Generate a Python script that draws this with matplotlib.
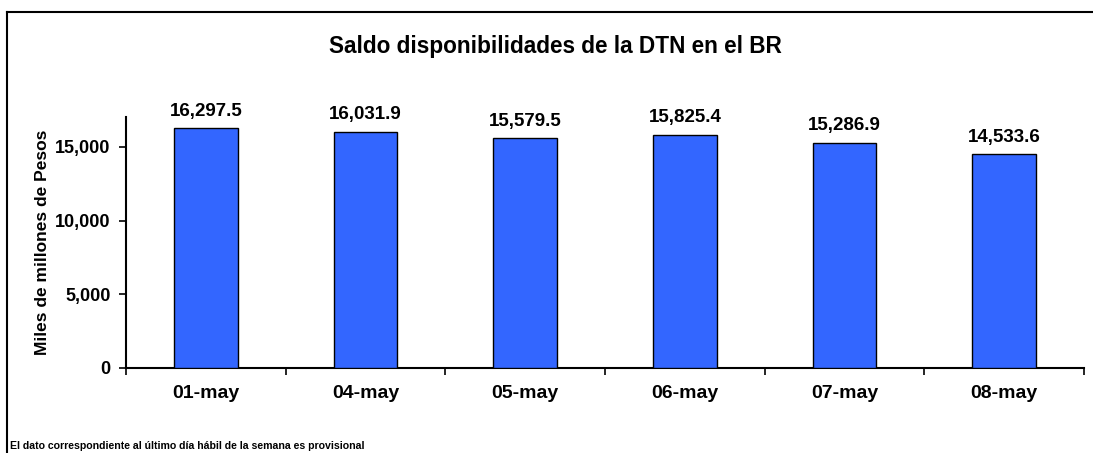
import matplotlib
matplotlib.use("Agg")
import matplotlib.pyplot as plt
from matplotlib.lines import Line2D
from matplotlib.ticker import FuncFormatter

categories = ["01-may", "04-may", "05-may", "06-may", "07-may", "08-may"]
values = [16297.5, 16031.9, 15579.5, 15825.4, 15286.9, 14533.6]
yticks = [0, 5000, 10000, 15000]

plt.rcParams['font.family'] = ['Liberation Sans', 'DejaVu Sans']
plt.rcParams['font.weight'] = 'bold'

W, H = 1093, 453
fig = plt.figure(figsize=(W / 100, H / 100), dpi=100)
fig.patch.set_facecolor("white")

ax = fig.add_axes([126 / W, 1 - 368 / H, (1084 - 126) / W, (368 - 117.5) / H])
x = list(range(len(categories)))
ax.bar(x, values, width=0.4, color="#3366FF", edgecolor="black", linewidth=1.0, zorder=3)

for xi, v in zip(x, values):
    ax.annotate(f"{v:,.1f}", (xi, v), xytext=(0, 6), textcoords="offset points",
                ha="center", va="bottom", fontsize=13.5, fontweight="bold")

ax.set_xlim(-0.5, len(categories) - 0.5)
ax.set_ylim(0, 17000)
ax.set_yticks(yticks)
ax.yaxis.set_major_formatter(FuncFormatter(lambda v, p: f"{int(v):,}"))
ax.set_xticks([i - 0.5 for i in range(len(categories) + 1)])
ax.set_xticklabels([])
ax.set_xticks(x, minor=True)
ax.set_xticklabels(categories, minor=True, fontsize=14, fontweight="bold")
ax.tick_params(axis="x", which="minor", length=0, pad=12)
ax.tick_params(axis="x", which="major", length=5, width=1.2, direction="out")
ax.tick_params(axis="y", length=5, width=1.2, direction="out", labelsize=13, pad=6)
for lbl in ax.get_yticklabels():
    lbl.set_fontweight("bold")

for s in ["top", "right"]:
    ax.spines[s].set_visible(False)
ax.spines["left"].set_linewidth(1.5)
ax.spines["bottom"].set_linewidth(1.5)

ax.set_ylabel("Miles de millones de Pesos", fontsize=12.5, fontweight="bold")
ax.yaxis.set_label_coords((50 - 126) / (1084 - 126), 0.5)

fig.text(555 / W, 1 - 47 / H, "Saldo disponibilidades de la DTN en el BR",
         ha="center", va="center", fontsize=16.3, fontweight="bold")
fig.text(10 / W, 1 - 446 / H,
         "El dato correspondiente al último día hábil de la semana es provisional",
         ha="left", va="center", fontsize=7.6, fontweight="bold")

# outer frame (top and left visible)
fig.add_artist(Line2D([7 / W, 1.0], [1 - 12 / H, 1 - 12 / H], color="black", lw=1.5,
                      transform=fig.transFigure))
fig.add_artist(Line2D([7 / W, 7 / W], [0, 1 - 12 / H], color="black", lw=1.5,
                      transform=fig.transFigure))

fig.savefig("out.png", dpi=100, facecolor="white")
